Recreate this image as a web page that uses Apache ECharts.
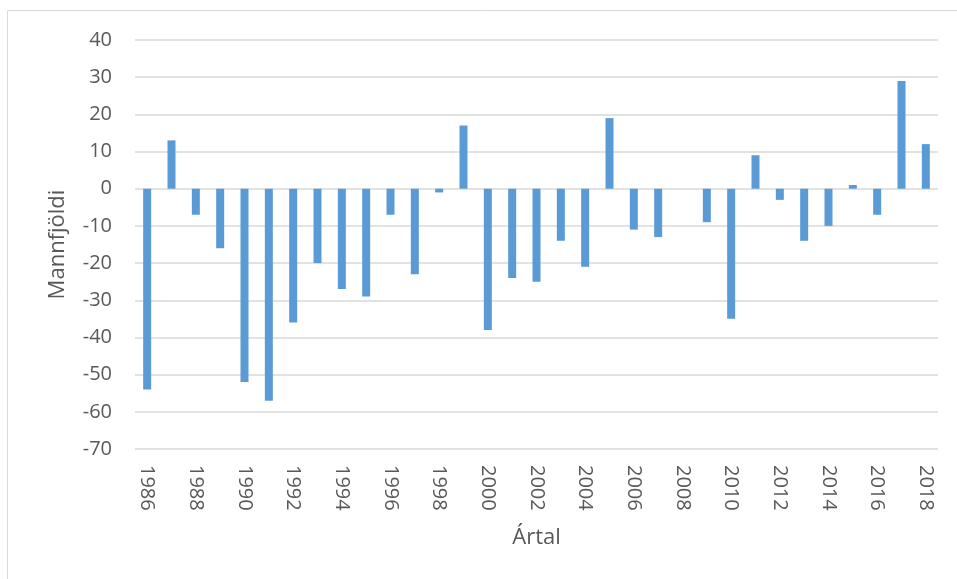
<!DOCTYPE html>
<html>
<head>
<meta charset="utf-8">
<script src="https://cdn.jsdelivr.net/npm/echarts@6/dist/echarts.min.js"></script>
<style>
html,body{margin:0;padding:0;background:#fff;}
#c{width:957px;height:579px;}
</style>
</head>
<body>
<div id="c"></div>
<script>
const years = ['1986','1987','1988','1989','1990','1991','1992','1993','1994','1995','1996','1997','1998','1999','2000','2001','2002','2003','2004','2005','2006','2007','2008','2009','2010','2011','2012','2013','2014','2015','2016','2017','2018'];
const mannfjoldi = [-54,13,-7,-16,-52,-57,-36,-20,-27,-29,-7,-23,-1,17,-38,-24,-25,-14,-21,19,-11,-13,0,-9,-35,9,-3,-14,-10,1,-7,29,12];
const yMin = -70, yMax = 40, yStep = 10;

const chart = echarts.init(document.getElementById('c'), null, {renderer:'canvas'});
const font = '"Open Sans", sans-serif';
chart.setOption({
  animation:false,
  backgroundColor:'#ffffff',
  graphic:[{type:'rect', shape:{x:7.5,y:10.5,width:1000,height:1000}, style:{fill:'none', stroke:'#d9d9d9', lineWidth:1}, z:-1}],
  grid:{left:135, right:19, top:40, bottom:130, containLabel:false},
  xAxis:{
    type:'category', data:years, boundaryGap:true,
    axisLine:{show:false, onZero:false}, axisTick:{show:false},
    axisLabel:{interval:1, rotate:-90, color:'#595959', fontFamily:font, fontSize:20, margin:16},
    name:'Ártal', nameLocation:'middle', nameGap:78,
    nameTextStyle:{color:'#595959', fontFamily:font, fontSize:22}
  },
  yAxis:{
    type:'value', min:yMin, max:yMax, interval:yStep,
    axisLine:{show:false}, axisTick:{show:false},
    splitLine:{lineStyle:{color:'#d9d9d9', width:1.5}},
    axisLabel:{color:'#595959', fontFamily:font, fontSize:20, margin:23},
    name:'Mannfjöldi', nameLocation:'middle', nameGap:66, nameRotate:90,
    nameTextStyle:{color:'#595959', fontFamily:font, fontSize:22}
  },
  series:[{type:'bar', data:mannfjoldi, barWidth:8, itemStyle:{color:'#5b9bd5'}}]
});
</script>
</body>
</html>
